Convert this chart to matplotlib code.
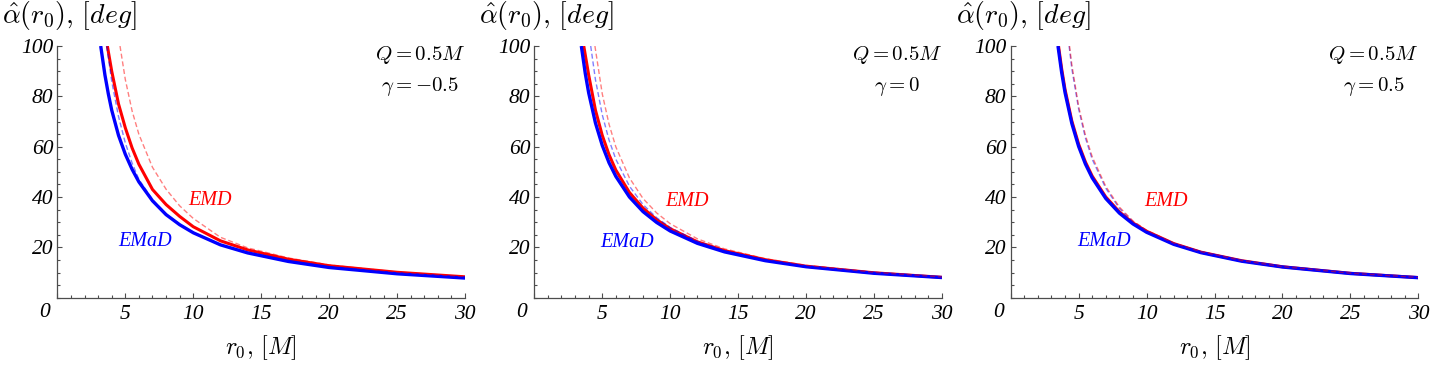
"""Deflection angle vs. closest approach for EMD / EMaD, three gamma values."""
import matplotlib.pyplot as plt
from matplotlib.ticker import MultipleLocator

plt.rcParams["mathtext.fontset"] = "cm"

# --- values (r0 in M, alpha in degrees) ---
# gamma = -0.5
x_emad_1 = [3.19, 3.5, 3.75, 4, 4.5, 5, 5.5, 6, 7, 8, 9, 10, 12, 14, 17, 20, 25, 30]
y_emad_1 = [100, 88.5, 81, 74.5, 64.5, 57, 51, 46, 38.5, 33, 29, 25.8, 21, 17.8, 14.4, 12.0, 9.5, 7.8]
x_emd_1 = [3.68, 4, 4.5, 5, 5.5, 6, 7, 8, 9, 10, 12, 14, 17, 20, 25, 30]
y_emd_1 = [100, 90, 77, 67.5, 59.5, 53, 43, 37, 32.3, 28.2, 22.6, 19.0, 15.3, 12.7, 10.1, 8.3]
x_emad_dash_1 = [3.63, 4, 4.5, 5, 5.5, 6, 7, 8, 9, 10, 12, 14, 17, 20, 25, 30]
y_emad_dash_1 = [100, 86, 72, 61.5, 53.5, 47, 39, 33.3, 29.2, 26, 21.1, 17.9, 14.5, 12.1, 9.6, 7.9]
x_emd_dash_1 = [4.61, 5, 5.5, 6, 7, 8, 9, 10, 12, 14, 17, 20, 25, 30]
y_emd_dash_1 = [100, 86.7, 74.2, 64.9, 51.8, 43.1, 36.5, 31.5, 24.0, 19.8, 15.8, 13.0, 10.2, 8.4]

# gamma = 0
x_emad_2 = [3.46, 3.75, 4, 4.5, 5, 5.5, 6, 7, 8, 9, 10, 12, 14, 17, 20, 25, 30]
y_emad_2 = [100, 89.1, 81.4, 69.4, 60.5, 53.6, 48.2, 40, 34.2, 29.9, 26.5, 21.6, 18.2, 14.7, 12.3, 9.7, 8.0]
x_emd_2 = [3.64, 4, 4.5, 5, 5.5, 6, 7, 8, 9, 10, 12, 14, 17, 20, 25, 30]
y_emd_2 = [100, 88.5, 74.5, 64.5, 56.8, 50.7, 41.8, 35.6, 31.0, 27.4, 22.2, 18.7, 15.1, 12.5, 9.9, 8.1]
x_emad_dash_2 = [4.15, 4.5, 5, 5.5, 6, 7, 8, 9, 10, 12, 14, 17, 20, 25, 30]
y_emad_dash_2 = [100, 86.6, 72.7, 62.6, 55.0, 44.3, 37.0, 31.8, 27.9, 22.4, 18.7, 15.0, 12.5, 9.8, 8.05]
x_emd_dash_2 = [4.46, 5, 5.5, 6, 7, 8, 9, 10, 12, 14, 17, 20, 25, 30]
y_emd_dash_2 = [100, 81.0, 68.9, 59.9, 47.6, 39.4, 33.7, 29.4, 23.4, 19.4, 15.5, 12.9, 10.1, 8.25]

# gamma = 0.5
x_emad_3 = [3.48, 3.75, 4, 4.5, 5, 5.5, 6, 7, 8, 9, 10, 12, 14, 17, 20, 25, 30]
y_emad_3 = [100, 89.5, 81.5, 69.2, 60.1, 53.1, 47.6, 39.4, 33.6, 29.3, 26.0, 21.2, 17.9, 14.5, 12.2, 9.6, 7.95]
x_emd_3 = [3.52, 3.75, 4, 4.5, 5, 5.5, 6, 7, 8, 9, 10, 12, 14, 17, 20, 25, 30]
y_emd_3 = [100, 91, 82.7, 70.2, 61, 53.9, 48.3, 40, 34.1, 29.7, 26.4, 21.5, 18.1, 14.7, 12.3, 9.7, 8.0]
x_emad_dash_3 = [4.3, 4.5, 5, 5.5, 6, 7, 8, 9, 10, 12, 14, 17, 20, 25, 30]
y_emad_dash_3 = [100, 91, 75, 63.5, 55, 43.5, 35.5, 30.2, 26.6, 21.6, 18.2, 14.7, 12.3, 9.7, 8.0]
x_emd_dash_3 = [4.33, 4.5, 5, 5.5, 6, 7, 8, 9, 10, 12, 14, 17, 20, 25, 30]
y_emd_dash_3 = [100, 92.5, 76, 64.5, 56, 44.2, 36, 30.5, 26.8, 21.7, 18.3, 14.75, 12.35, 9.75, 8.05]

gamma_labels = [r"$\gamma = -0.5$", r"$\gamma = 0$", r"$\gamma = 0.5$"]
charge_label = r"$Q = 0.5M$"
xtick_values = [0, 5, 10, 15, 20, 25, 30]
ytick_values = [20, 40, 60, 80, 100]

panels = [
    (x_emad_1, y_emad_1, x_emd_1, y_emd_1, x_emad_dash_1, y_emad_dash_1, x_emd_dash_1, y_emd_dash_1),
    (x_emad_2, y_emad_2, x_emd_2, y_emd_2, x_emad_dash_2, y_emad_dash_2, x_emd_dash_2, y_emd_dash_2),
    (x_emad_3, y_emad_3, x_emd_3, y_emd_3, x_emad_dash_3, y_emad_dash_3, x_emd_dash_3, y_emd_dash_3),
]
axes_left = [0.0400, 0.3726, 0.7048]
emd_pos = [(11.24, 38.8), (11.23, 38.1), (11.45, 38.3)]
emad_pos = [(6.45, 22.3), (6.85, 22.1), (6.84, 22.2)]

tick_font = dict(family="Liberation Serif", style="italic", size=15.5)
label_font = dict(family="Liberation Serif", style="italic", size=14.5)
axis_grey = "#4d4d4d"

fig = plt.figure(figsize=(14.34, 3.66), dpi=100)

for i, (xb, yb, xr, yr, xbd, ybd, xrd, yrd) in enumerate(panels):
    ax = fig.add_axes([axes_left[i], 0.1866, 0.2843, 0.6877])
    ax.plot(xr, yr, color="red", lw=2.2, solid_capstyle="butt", zorder=3)
    ax.plot(xb, yb, color="blue", lw=2.4, solid_capstyle="butt", zorder=4)
    ax.plot(xbd, ybd, color="blue", alpha=0.5, lw=1.0, dashes=(3.6, 2.0), zorder=5)
    ax.plot(xrd, yrd, color="red", alpha=0.5, lw=1.0, dashes=(3.6, 2.0), zorder=5)

    ax.set_xlim(0, 30)
    ax.set_ylim(0, 100)
    for side in ("top", "right"):
        ax.spines[side].set_visible(False)
    for side in ("left", "bottom"):
        ax.spines[side].set_color(axis_grey)
        ax.spines[side].set_linewidth(0.9)

    ax.set_xticks(xtick_values)
    ax.set_xticklabels([""] + [str(v) for v in xtick_values[1:]], fontdict=tick_font)
    ax.set_yticks(ytick_values)
    ax.set_yticklabels([str(v) for v in ytick_values], fontdict=tick_font)
    ax.xaxis.set_minor_locator(MultipleLocator(1))
    ax.yaxis.set_minor_locator(MultipleLocator(5))
    ax.tick_params(which="both", direction="in", color=axis_grey, width=0.8)
    ax.tick_params(which="major", length=3.5)
    ax.tick_params(which="minor", length=2.0)
    ax.tick_params(axis="x", which="major", pad=5)
    ax.tick_params(axis="y", which="major", pad=3)

    # Mathematica puts the origin label off to the lower left
    ax.annotate("0", xy=(0, 0), xytext=(-8.9, -10.3), textcoords="offset points",
                ha="center", va="center", **tick_font)

    ax.annotate(r"$\hat{\alpha}(r_0),\,[deg]$", xy=(0, 1), xycoords="axes fraction",
                xytext=(-39.6, 22.3), textcoords="offset points",
                ha="left", va="center", fontsize=20)
    ax.annotate(r"$r_0,\,[M]$", xy=(0.5, 0), xycoords="axes fraction",
                xytext=(0, -36), textcoords="offset points",
                ha="center", va="center", fontsize=17.5)

    ax.text(26.7, 96.4, charge_label, ha="center", va="center", fontsize=15)
    ax.text(26.7, 84.0, gamma_labels[i], ha="center", va="center", fontsize=15)

    ax.text(*emd_pos[i], "EMD", color="red", ha="center", va="center", **label_font)
    ax.text(*emad_pos[i], "EMaD", color="blue", ha="center", va="center", **label_font)

fig.savefig("out.png", dpi=100)
